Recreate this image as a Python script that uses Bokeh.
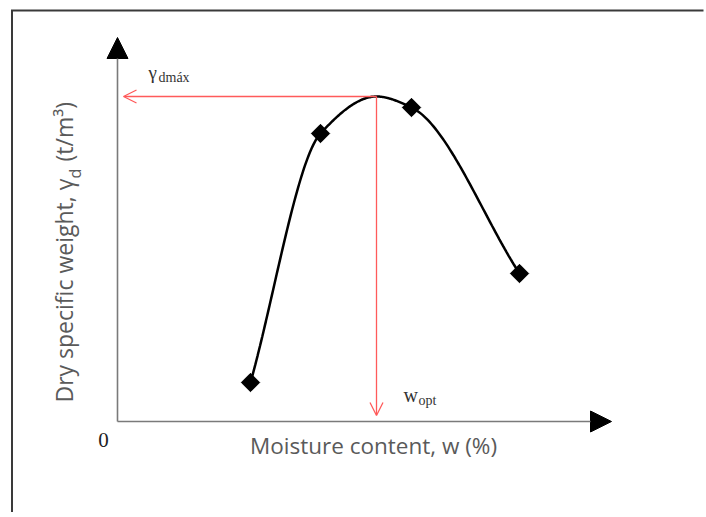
import numpy as np
from bokeh.plotting import figure
from bokeh.models import Range1d, Arrow, NormalHead, OpenHead
from bokeh.core.properties import value
from bokeh.embed import file_html
from bokeh.resources import INLINE

# ---- data (schematic compaction curve, arbitrary units) ----
moisture = [6.65, 10.15, 14.7, 20.1]          # w (%)
dry_weight = [0.195, 1.44, 1.57, 0.74]        # gamma_d (t/m3)
w_opt = 12.95                                 # optimum moisture content
gamma_dmax = 1.625                            # maximum dry specific weight
x_axis_end = 24.7
y_axis_end = 1.92

x_label = "Moisture content, w (%)"
y_label_main = "Dry specific weight, \u03b3"
y_label_sub = "d"
y_label_unit = "(t/m\u00b3)"

# ---- smooth curve through points + peak (monotone cubic Hermite) ----
xk = np.array(sorted(moisture + [w_opt]))
yk = np.array([dict(zip(moisture + [w_opt], dry_weight + [gamma_dmax]))[v] for v in xk])
h = np.diff(xk)
delta = np.diff(yk) / h
n = len(xk)
d = np.zeros(n)
for k in range(1, n - 1):
    if delta[k - 1] * delta[k] > 0:
        w1 = 2 * h[k] + h[k - 1]
        w2 = h[k] + 2 * h[k - 1]
        d[k] = (w1 + w2) / (w1 / delta[k - 1] + w2 / delta[k])
d[0] = delta[0]
d[-1] = delta[-1]
cx, cy = [], []
for k in range(n - 1):
    t = np.linspace(0, 1, 60)
    h00 = 2 * t**3 - 3 * t**2 + 1
    h10 = t**3 - 2 * t**2 + t
    h01 = -2 * t**3 + 3 * t**2
    h11 = t**3 - t**2
    cx.extend(xk[k] + t * h[k])
    cy.extend(h00 * yk[k] + h10 * h[k] * d[k] + h01 * yk[k + 1] + h11 * h[k] * d[k + 1])

# ---- figure: 20 px per x unit, 200 px per y unit ----
W, H = 704, 512
x0 = -117 / 20.0
y1 = 421 / 200.0
xr = Range1d(x0, x0 + W / 20.0)
yr = Range1d(y1 - H / 200.0, y1)
p = figure(width=W, height=H, output_backend="svg", toolbar_location=None,
           x_range=xr, y_range=yr,
           x_axis_type=None, y_axis_type=None, min_border=0)
p.grid.visible = False
p.outline_line_color = None
p.background_fill_color = "white"
p.border_fill_color = "white"

# outer frame (left and top edges only visible) as one open polyline
fx = x0 + 11.5 / 20.0
fy = y1 - 10.0 / 200.0
p.line(x=[fx, fx, xr.end - 0.05], y=[yr.start, fy, fy],
       line_color="#3a3a3a", line_width=2, line_join="miter")

# red guide arrows
red = "#ff5a5a"
p.add_layout(Arrow(x_start=w_opt, y_start=gamma_dmax, x_end=0.3, y_end=gamma_dmax,
                   line_color=red, line_width=1.3,
                   end=OpenHead(size=13, line_color=red, line_width=1.3)))
p.add_layout(Arrow(x_start=w_opt, y_start=gamma_dmax, x_end=w_opt, y_end=0.03,
                   line_color=red, line_width=1.3,
                   end=OpenHead(size=13, line_color=red, line_width=1.3)))

# axes with arrow heads
p.add_layout(Arrow(x_start=0, y_start=0, x_end=x_axis_end, y_end=0,
                   line_color="#7a7a7a", line_width=1.6,
                   end=NormalHead(size=21, fill_color="black", line_color="black")))
p.add_layout(Arrow(x_start=0, y_start=0, x_end=0, y_end=y_axis_end,
                   line_color="#7a7a7a", line_width=1.6,
                   end=NormalHead(size=21, fill_color="black", line_color="black")))

# curve and points
p.line(cx, cy, line_color="black", line_width=2.5)
p.scatter(moisture, dry_weight, marker="square", size=13, angle=np.pi / 4, color="black")

serif = value("Liberation Serif")
sans = value("Open Sans")
gray = "#5a5a5a"

# origin label
p.text(x=[-0.7], y=[-0.09], text=["0"], text_font=serif, text_font_size="21px",
       text_color="#222222", text_align="center", text_baseline="alphabetic")

# gamma_dmax label
p.text(x=[1.55], y=[1.745], text=["\u03b3"], text_font=serif, text_font_size="19px",
       text_color="#333333", text_align="left", text_baseline="alphabetic")
p.text(x=[2.05], y=[1.72], text=["dm\u00e1x"], text_font=serif, text_font_size="14px",
       text_color="#333333", text_align="left", text_baseline="alphabetic")

# w_opt label
p.text(x=[w_opt + 1.35], y=[0.135], text=["w"], text_font=serif, text_font_size="20px",
       text_color="#333333", text_align="left", text_baseline="alphabetic")
p.text(x=[w_opt + 2.1], y=[0.105], text=["opt"], text_font=serif, text_font_size="14px",
       text_color="#333333", text_align="left", text_baseline="alphabetic")

# axis titles
p.text(x=[12.8], y=[-0.12], text=[x_label], text_font=sans, text_font_size="22.5px",
       text_color=gray, text_align="center", text_baseline="alphabetic")
p.text(x=[-2.7], y=[0.095], text=[y_label_main], text_font=sans, text_font_size="23px",
       text_color=gray, text_align="left", text_baseline="alphabetic", angle=np.pi / 2)
p.text(x=[-2.15], y=[1.215], text=[y_label_sub], text_font=sans, text_font_size="16px",
       text_color=gray, text_align="left", text_baseline="alphabetic", angle=np.pi / 2)
p.text(x=[-2.7], y=[1.3], text=[y_label_unit], text_font=sans, text_font_size="23px",
       text_color=gray, text_align="left", text_baseline="alphabetic", angle=np.pi / 2)

open("out.html", "w").write(file_html(p, INLINE))
